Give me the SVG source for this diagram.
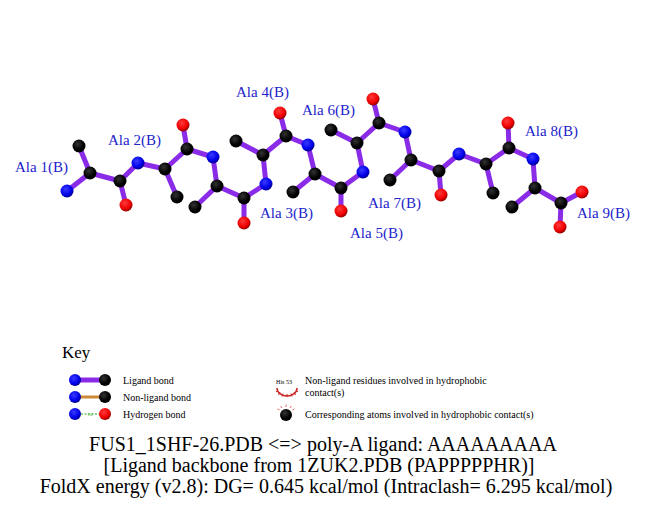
<svg xmlns="http://www.w3.org/2000/svg" width="651" height="511" viewBox="0 0 651 511">
<defs>
<radialGradient id="gN" cx="40%" cy="35%" r="65%"><stop offset="0" stop-color="#3a3aff"/><stop offset="0.7" stop-color="#0000e8"/><stop offset="1" stop-color="#000090"/></radialGradient>
<radialGradient id="gO" cx="40%" cy="35%" r="65%"><stop offset="0" stop-color="#ff3a3a"/><stop offset="0.7" stop-color="#ee0000"/><stop offset="1" stop-color="#900000"/></radialGradient>
<radialGradient id="gC" cx="40%" cy="35%" r="65%"><stop offset="0" stop-color="#333"/><stop offset="0.7" stop-color="#000"/><stop offset="1" stop-color="#000"/></radialGradient>
</defs>
<style>
.b{stroke:#8a2be8;stroke-width:5;stroke-linecap:round;fill:none}
.N{fill:url(#gN)}
.O{fill:url(#gO)}
.C{fill:url(#gC)}
.lab{font-family:"Liberation Serif",serif;font-size:15px;fill:#2222cc}
.key{font-family:"Liberation Serif",serif;font-size:10px;fill:#000}
.ttl{font-family:"Liberation Serif",serif;font-size:20px;fill:#000;text-anchor:middle}
</style>
<rect width="651" height="511" fill="#fff"/>
<g id="connectors">
<line class="b" x1="67" y1="191" x2="90" y2="173"/>
<line class="b" x1="90" y1="173" x2="79" y2="146"/>
<line class="b" x1="90" y1="173" x2="120" y2="181"/>
<line class="b" x1="120" y1="181" x2="126" y2="205"/>
<line class="b" x1="120" y1="181" x2="138" y2="163"/>
<line class="b" x1="138" y1="163" x2="165" y2="169"/>
<line class="b" x1="165" y1="169" x2="177" y2="197"/>
<line class="b" x1="165" y1="169" x2="187" y2="149"/>
<line class="b" x1="187" y1="149" x2="183" y2="125"/>
<line class="b" x1="187" y1="149" x2="213" y2="157"/>
<line class="b" x1="213" y1="157" x2="217" y2="186"/>
<line class="b" x1="217" y1="186" x2="195" y2="207"/>
<line class="b" x1="217" y1="186" x2="244" y2="198"/>
<line class="b" x1="244" y1="198" x2="244" y2="223"/>
<line class="b" x1="244" y1="198" x2="266" y2="184"/>
<line class="b" x1="266" y1="184" x2="263" y2="155"/>
<line class="b" x1="263" y1="155" x2="236" y2="141"/>
<line class="b" x1="263" y1="155" x2="286" y2="136"/>
<line class="b" x1="286" y1="136" x2="280" y2="113"/>
<line class="b" x1="286" y1="136" x2="308" y2="145"/>
<line class="b" x1="308" y1="145" x2="315" y2="174"/>
<line class="b" x1="315" y1="174" x2="293" y2="192"/>
<line class="b" x1="315" y1="174" x2="341" y2="188"/>
<line class="b" x1="341" y1="188" x2="341" y2="211"/>
<line class="b" x1="341" y1="188" x2="363" y2="172"/>
<line class="b" x1="363" y1="172" x2="357" y2="143"/>
<line class="b" x1="357" y1="143" x2="331" y2="130"/>
<line class="b" x1="357" y1="143" x2="379" y2="123"/>
<line class="b" x1="379" y1="123" x2="373" y2="99"/>
<line class="b" x1="379" y1="123" x2="405" y2="132"/>
<line class="b" x1="405" y1="132" x2="411" y2="160"/>
<line class="b" x1="411" y1="160" x2="390" y2="180"/>
<line class="b" x1="411" y1="160" x2="439" y2="171"/>
<line class="b" x1="439" y1="171" x2="441" y2="195"/>
<line class="b" x1="439" y1="171" x2="459" y2="154"/>
<line class="b" x1="459" y1="154" x2="486" y2="164"/>
<line class="b" x1="486" y1="164" x2="493" y2="193"/>
<line class="b" x1="486" y1="164" x2="509" y2="148"/>
<line class="b" x1="509" y1="148" x2="508" y2="123"/>
<line class="b" x1="509" y1="148" x2="533" y2="159"/>
<line class="b" x1="533" y1="159" x2="535" y2="188"/>
<line class="b" x1="535" y1="188" x2="512" y2="207"/>
<line class="b" x1="535" y1="188" x2="561" y2="203"/>
<line class="b" x1="561" y1="203" x2="582" y2="192"/>
<line class="b" x1="561" y1="203" x2="560" y2="227"/>
</g>
<g id="ala1"><circle class="N" cx="67" cy="191" r="6.5"/><circle class="C" cx="90" cy="173" r="6.5"/><circle class="C" cx="79" cy="146" r="6.5"/><circle class="C" cx="120" cy="181" r="6.5"/><circle class="O" cx="126" cy="205" r="6.5"/><text class="lab" x="15" y="172">Ala 1(B)</text></g>
<g id="ala2"><circle class="N" cx="138" cy="163" r="6.5"/><circle class="C" cx="165" cy="169" r="6.5"/><circle class="C" cx="177" cy="197" r="6.5"/><circle class="C" cx="187" cy="149" r="6.5"/><circle class="O" cx="183" cy="125" r="6.5"/><text class="lab" x="108" y="145">Ala 2(B)</text></g>
<g id="ala3"><circle class="N" cx="213" cy="157" r="6.5"/><circle class="C" cx="217" cy="186" r="6.5"/><circle class="C" cx="195" cy="207" r="6.5"/><circle class="C" cx="244" cy="198" r="6.5"/><circle class="O" cx="244" cy="223" r="6.5"/><text class="lab" x="260" y="218">Ala 3(B)</text></g>
<g id="ala4"><circle class="N" cx="266" cy="184" r="6.5"/><circle class="C" cx="263" cy="155" r="6.5"/><circle class="C" cx="236" cy="141" r="6.5"/><circle class="C" cx="286" cy="136" r="6.5"/><circle class="O" cx="280" cy="113" r="6.5"/><text class="lab" x="236" y="97">Ala 4(B)</text></g>
<g id="ala5"><circle class="N" cx="308" cy="145" r="6.5"/><circle class="C" cx="315" cy="174" r="6.5"/><circle class="C" cx="293" cy="192" r="6.5"/><circle class="C" cx="341" cy="188" r="6.5"/><circle class="O" cx="341" cy="211" r="6.5"/><text class="lab" x="350" y="238">Ala 5(B)</text></g>
<g id="ala6"><circle class="N" cx="363" cy="172" r="6.5"/><circle class="C" cx="357" cy="143" r="6.5"/><circle class="C" cx="331" cy="130" r="6.5"/><circle class="C" cx="379" cy="123" r="6.5"/><circle class="O" cx="373" cy="99" r="6.5"/><text class="lab" x="302" y="115">Ala 6(B)</text></g>
<g id="ala7"><circle class="N" cx="405" cy="132" r="6.5"/><circle class="C" cx="411" cy="160" r="6.5"/><circle class="C" cx="390" cy="180" r="6.5"/><circle class="C" cx="439" cy="171" r="6.5"/><circle class="O" cx="441" cy="195" r="6.5"/><text class="lab" x="368" y="208">Ala 7(B)</text></g>
<g id="ala8"><circle class="N" cx="459" cy="154" r="6.5"/><circle class="C" cx="486" cy="164" r="6.5"/><circle class="C" cx="493" cy="193" r="6.5"/><circle class="C" cx="509" cy="148" r="6.5"/><circle class="O" cx="508" cy="123" r="6.5"/><text class="lab" x="525" y="136">Ala 8(B)</text></g>
<g id="ala9"><circle class="N" cx="533" cy="159" r="6.5"/><circle class="C" cx="535" cy="188" r="6.5"/><circle class="C" cx="512" cy="207" r="6.5"/><circle class="C" cx="561" cy="203" r="6.5"/><circle class="O" cx="582" cy="192" r="6.5"/><circle class="O" cx="560" cy="227" r="6.5"/><text class="lab" x="577" y="218">Ala 9(B)</text></g>
<g id="key">
<text x="62" y="358" style="font-family:'Liberation Serif',serif;font-size:17px">Key</text>
<line x1="75" y1="380" x2="105" y2="380" stroke="#8a2be8" stroke-width="5"/>
<circle class="N" cx="75" cy="380" r="6"/><circle class="C" cx="105" cy="380" r="6"/>
<text class="key" x="123" y="384">Ligand bond</text>
<line x1="75" y1="397" x2="105" y2="397" stroke="#cc8833" stroke-width="3"/>
<circle class="N" cx="75" cy="397" r="6"/><circle class="C" cx="105" cy="397" r="6"/>
<text class="key" x="123" y="401">Non-ligand bond</text>
<line x1="81" y1="414" x2="99" y2="414" stroke="#22aa22" stroke-width="1.2" stroke-dasharray="2,1.5"/>
<text x="90" y="415.5" style="font-family:'Liberation Serif',serif;font-size:4px;fill:#22aa22" text-anchor="middle">3.0</text>
<circle class="N" cx="75" cy="414" r="6"/><circle class="O" cx="105" cy="414" r="6"/>
<text class="key" x="123" y="418">Hydrogen bond</text>
<text x="284" y="383.5" style="font-family:'Liberation Serif',serif;font-size:6px" text-anchor="middle">His 53</text>
<path d="M277,388 A10,8 0 0 0 297,388" fill="none" stroke="#cc2222" stroke-width="1.5"/>
<g stroke="#cc2222" stroke-width="1">
<line x1="278" y1="390" x2="276" y2="392"/><line x1="280" y1="392" x2="278.5" y2="395"/><line x1="283" y1="393.5" x2="282" y2="396.5"/><line x1="287" y1="394" x2="287" y2="397"/><line x1="291" y1="393.5" x2="292" y2="396.5"/><line x1="294" y1="392" x2="295.5" y2="395"/><line x1="296" y1="390" x2="298" y2="392"/>
</g>
<circle class="C" cx="286" cy="415" r="6"/>
<g stroke="#dd4444" stroke-width="0.8">
<line x1="286" y1="407" x2="286" y2="404.5"/><line x1="282" y1="408" x2="280.5" y2="406"/><line x1="290" y1="408" x2="291.5" y2="406"/><line x1="279.5" y1="410" x2="277.5" y2="409"/><line x1="292.5" y1="410" x2="294.5" y2="409"/>
</g>
<text class="key" x="305" y="384">Non-ligand residues involved in hydrophobic</text>
<text class="key" x="305" y="396">contact(s)</text>
<text class="key" x="305" y="418">Corresponding atoms involved in hydrophobic contact(s)</text>
</g>
<g id="title">
<text class="ttl" x="323" y="451">FUS1_1SHF-26.PDB &lt;=&gt; poly-A ligand: AAAAAAAAA</text>
<text class="ttl" x="319" y="472">[Ligand backbone from 1ZUK2.PDB (PAPPPPPHR)]</text>
<text class="ttl" x="326" y="493">FoldX energy (v2.8): DG= 0.645 kcal/mol (Intraclash= 6.295 kcal/mol)</text>
</g>
</svg>
